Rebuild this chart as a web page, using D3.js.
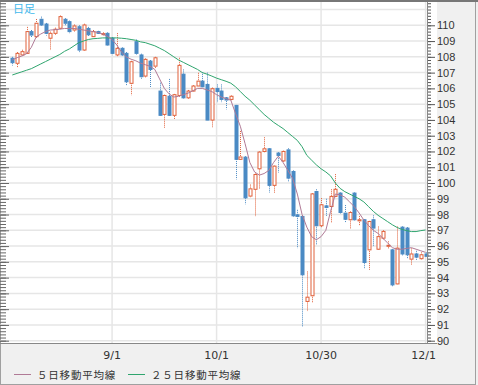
<!DOCTYPE html>
<html>
<head>
<meta charset="utf-8">
<script src="https://cdn.jsdelivr.net/npm/d3@7"></script>
<style>
  body { margin: 0; background: #f0f0f0; }
  svg { display: block; }
</style>
</head>
<body>
<div id="chart"></div>
<script>
const width = 478
const height = 385

// daily candles (oldest first)
const opens  = [107.91,107.59,108.12,108.22,109.6,109.28,110.38,110.08,109.18,109.49,109.81,110.38,110.23,109.7,109.91,108.43,109.8,109.28,109.6,109.45,109.49,109.18,108.12,108.54,108.22,106.32,108.96,108.12,
  106.78,107.73,107.41,105.83,104.35,105.5,104.29,105.55,106.9,105.4,105.83,106.15,106.46,106.25,103.99,106.0,105.83,105.4,105.3,104.92,101.5,101.64,99.17,99.6,100.9,102.0,102.17,99.85,101.9,101.4,
  102.1,100.73,97.98,97.88,92.49,92.85,99.46,97.29,98.55,98.51,99.15,99.36,98.09,97.67,99.36,97.6,97.67,95.76,97.67,95.8,96.5,96.0,95.76,93.6,97.2,97.14,95.17,95.5,95.2,95.5]
const highs  = [108.0,108.3,108.45,109.9,109.7,110.4,110.55,110.15,109.6,109.85,110.62,110.45,110.3,110.05,110.0,110.1,109.9,109.7,109.65,109.55,109.55,109.25,109.5,108.6,108.3,107.75,109.1,108.2,
  107.9,107.8,108.0,106.36,105.6,106.6,105.65,107.94,107.2,105.9,106.2,106.99,107.03,107.0,106.05,106.25,106.25,105.45,105.55,104.95,103.3,101.7,99.9,100.6,102.0,102.9,102.2,101.1,101.95,102.05,
  102.2,100.8,98.3,97.95,94.39,99.35,99.6,99.04,99.0,99.6,100.56,99.4,98.6,98.2,99.4,97.9,97.7,97.6,97.95,97.24,97.0,96.3,95.8,97.24,97.25,97.2,95.85,95.7,95.6,95.6]
const lows   = [107.45,107.3,108.05,108.15,109.2,109.2,109.95,109.35,108.43,109.4,109.75,110.0,109.5,109.6,108.3,108.4,109.3,109.2,109.4,109.35,108.7,108.1,108.0,108.05,106.2,105.57,108.1,106.6,
  106.7,106.04,107.3,104.25,103.5,104.2,104.03,105.45,105.35,105.35,105.8,106.1,106.05,103.95,103.5,105.1,105.1,104.67,105.25,100.23,101.4,98.64,99.1,97.9,99.6,101.95,99.38,99.38,100.65,101.35,
  100.1,97.85,95.87,90.9,91.85,92.38,96.08,97.2,97.9,97.45,99.1,98.05,97.5,97.1,97.6,97.3,94.6,94.5,96.0,95.75,96.4,95.8,93.45,93.55,95.4,95.2,94.8,95.1,95.1,95.4]
const closes = [107.63,108.22,108.33,109.6,109.38,110.13,110.02,109.49,109.49,109.75,110.55,110.13,109.6,109.96,108.43,110.02,109.4,109.6,109.49,109.47,108.75,108.22,108.54,108.12,106.42,107.69,108.22,106.74,
  107.84,107.2,107.94,104.29,105.55,104.29,105.6,107.46,105.4,105.83,106.15,106.46,106.1,103.99,105.98,105.8,105.3,105.26,105.5,101.5,101.65,99.06,99.63,100.54,101.96,102.17,99.85,101.07,101.75,102.0,
  100.31,97.92,97.88,94.18,92.76,99.31,97.29,98.62,98.45,99.15,99.6,98.13,97.7,98.13,97.67,97.67,94.96,97.56,97.14,96.6,96.93,96.05,93.54,95.87,95.5,95.45,95.5,95.3,95.45,95.35]

// moving averages
const ma5  = [107.8,107.95,108.05,108.2,108.6,109.25,109.45,109.6,109.7,109.72,109.75,109.8,109.8,109.8,109.75,109.7,109.65,109.6,109.55,109.45,109.3,109.1,108.75,108.3,108.0,107.85,107.75,107.6,
  107.5,107.4,107.2,106.6,106.0,105.65,105.45,105.5,105.6,105.7,105.85,106.0,106.0,105.9,105.8,105.6,105.45,105.35,105.25,104.4,103.6,102.5,101.3,100.7,100.5,100.6,100.8,101.3,101.7,101.3,
  100.8,100.3,99.3,98.0,97.2,96.6,96.4,96.6,97.0,98.2,99.3,99.25,99.1,98.8,98.5,98.1,97.65,97.3,97.0,96.8,96.5,96.2,95.9,95.8,95.8,95.85,95.9,95.8,95.7,95.6]
const ma25 = [106.85,106.95,107.05,107.15,107.25,107.4,107.55,107.7,107.85,108.0,108.15,108.35,108.5,108.7,108.9,109.0,109.1,109.15,109.17,109.2,109.2,109.2,109.2,109.18,109.15,109.1,109.05,108.95,
  108.9,108.8,108.7,108.55,108.4,108.2,108.0,107.8,107.65,107.5,107.35,107.2,107.0,106.9,106.78,106.65,106.55,106.45,106.33,106.1,105.8,105.5,105.25,104.95,104.65,104.35,104.1,103.85,103.65,103.45,
  103.2,102.95,102.7,102.3,101.75,101.45,101.15,100.9,100.7,100.45,100.0,99.66,99.45,99.3,99.15,99.0,98.8,98.5,98.2,97.95,97.75,97.55,97.35,97.18,97.06,96.98,96.92,96.92,96.98,97.02]

// x axis labels sit on these bars
const dateTickBars = [21, 43, 65, 87]
const dateTickLabels = ["9/1", "10/1", "10/30", "12/1"]
const yTicks = d3.range(90, 111)
const legendLabels = ["５日移動平均線", "２５日移動平均線"]

const n = closes.length
const plot = { left: 0, right: 427, top: 2, bottom: 343 }
const upColor = "#e0603a"
const downColor = "#4a8ac4"
const ma5Color = "#b07a96"
const ma25Color = "#2fa56e"

const svg = d3.select("div#chart").append("svg").attr("width", width).attr("height", height)

// frame
svg.append("rect").attr("x", 0).attr("y", 0).attr("width", width).attr("height", height).attr("fill", "#f0f0f0")
svg.append("rect").attr("x", plot.left).attr("y", plot.top).attr("width", plot.right + 10 - plot.left).attr("height", plot.bottom - plot.top).attr("fill", "#fff")
svg.append("rect").attr("x", 0.5).attr("y", 0.5).attr("width", 475).attr("height", 384).attr("fill", "none").attr("stroke", "#a0a0a0")

const x = d3.scaleLinear().domain([0, n - 1]).range([12.3, 425.6])
const y = d3.scaleLinear().domain([90, 110]).range([340.7, 25.3])

const gridGroup = svg.append("g").attr("id", "gridGroup")
gridGroup.selectAll("line.h").data(d3.range(90, 112)).enter().append("line")
    .attr("x1", plot.left).attr("x2", plot.right)
    .attr("y1", d => y(d)).attr("y2", d => y(d))
    .attr("stroke", "#e6e6e6").attr("stroke-width", 1.5)
gridGroup.selectAll("line.v").data(dateTickBars).enter().append("line")
    .attr("x1", d => x(d)).attr("x2", d => x(d))
    .attr("y1", plot.top).attr("y2", plot.bottom)
    .attr("stroke", "#e6e6e6").attr("stroke-width", 1.5)

// candles
const candleGroup = svg.append("g").attr("id", "candleGroup")
const candles = closes.map((c, i) => ({ i: i, o: opens[i], h: highs[i], l: lows[i], c: c }))
candleGroup.selectAll("line").data(candles).enter().append("line")
    .attr("x1", d => Math.round(x(d.i)) + 0.5).attr("x2", d => Math.round(x(d.i)) + 0.5)
    .attr("y1", d => y(d.h)).attr("y2", d => y(d.l))
    .attr("stroke", d => d.c >= d.o ? upColor : downColor)
    .attr("stroke-dasharray", "1,1")
candleGroup.selectAll("rect").data(candles).enter().append("rect")
    .attr("x", d => Math.round(x(d.i)) - 1)
    .attr("y", d => y(Math.max(d.o, d.c)))
    .attr("width", 3)
    .attr("height", d => Math.max(1, Math.abs(y(d.o) - y(d.c))))
    .attr("fill", d => d.c >= d.o ? "#fff" : downColor)
    .attr("stroke", d => d.c >= d.o ? upColor : downColor)

// moving averages
const line = d3.line().x((d, i) => x(i)).y(d => y(d))
svg.append("path").attr("d", line(ma25)).attr("fill", "none").attr("stroke", ma25Color).attr("stroke-width", 1)
svg.append("path").attr("d", line(ma5)).attr("fill", "none").attr("stroke", ma5Color).attr("stroke-width", 1)

// right price axis
const axisGroup = svg.append("g").attr("id", "axisGroup")
const minorAxis = d3.axisRight(y).tickValues(d3.range(90, 111.5, 0.2)).tickSize(4).tickFormat("")
const majorAxis = d3.axisRight(y).tickValues(yTicks).tickSize(8).tickPadding(2).tickFormat(d3.format("d"))
axisGroup.append("g").attr("transform", `translate(${plot.right}, 0)`).call(minorAxis)
axisGroup.append("g").attr("class", "major").attr("transform", `translate(${plot.right}, 0)`).call(majorAxis)
axisGroup.selectAll(".domain").remove()
axisGroup.selectAll("line").attr("stroke", "#555")
axisGroup.selectAll("text").attr("fill", "#333").style("font-family", "Liberation Sans, Arial, sans-serif").style("font-size", "11px")
svg.append("line").attr("x1", plot.right + 0.5).attr("x2", plot.right + 0.5).attr("y1", plot.top).attr("y2", plot.bottom).attr("stroke", "#888")

// left ruler ticks
const leftRuler = svg.append("g").attr("transform", "translate(0, 0)")
leftRuler.call(d3.axisRight(y).tickValues(d3.range(90, 111.5, 0.2)).tickSize(6).tickFormat(""))
leftRuler.append("g").call(d3.axisRight(y).tickValues(yTicks).tickSize(9).tickFormat(""))
leftRuler.selectAll(".domain").remove()
leftRuler.selectAll("line").attr("stroke", "#666")

// bottom border of plot
svg.append("line").attr("x1", 0).attr("x2", plot.right + 10).attr("y1", plot.bottom + 0.5).attr("y2", plot.bottom + 0.5).attr("stroke", "#888")
svg.append("line").attr("x1", 0).attr("x2", width).attr("y1", 1).attr("y2", 1).attr("stroke", "#777").attr("stroke-width", 2)

// date labels
svg.selectAll("text.date").data(dateTickBars).enter().append("text")
    .attr("x", (d, i) => i === dateTickBars.length - 1 ? x(d) - 2 : x(d))
    .attr("y", 359)
    .attr("text-anchor", "middle")
    .attr("fill", "#333")
    .style("font-family", "DejaVu Sans, sans-serif").style("font-size", "11px")
    .text((d, i) => dateTickLabels[i])

// chart title
svg.append("text").attr("x", 13).attr("y", 13).text("日足")
    .attr("fill", "#3fb8ec").style("font-family", "Noto Sans CJK JP").style("font-size", "11px")

// legend
const legendX = [14, 128]
const legendColors = [ma5Color, ma25Color]
legendLabels.forEach((label, i) => {
    svg.append("line").attr("x1", legendX[i]).attr("x2", legendX[i] + 17).attr("y1", 374.5).attr("y2", 374.5)
        .attr("stroke", legendColors[i])
    svg.append("text").attr("x", legendX[i] + 23).attr("y", 378.5).text(label)
        .attr("fill", "#333").style("font-family", "Noto Sans CJK JP").style("font-size", "10.5px")
        .style("letter-spacing", "0.8px")
})
</script>
</body>
</html>
